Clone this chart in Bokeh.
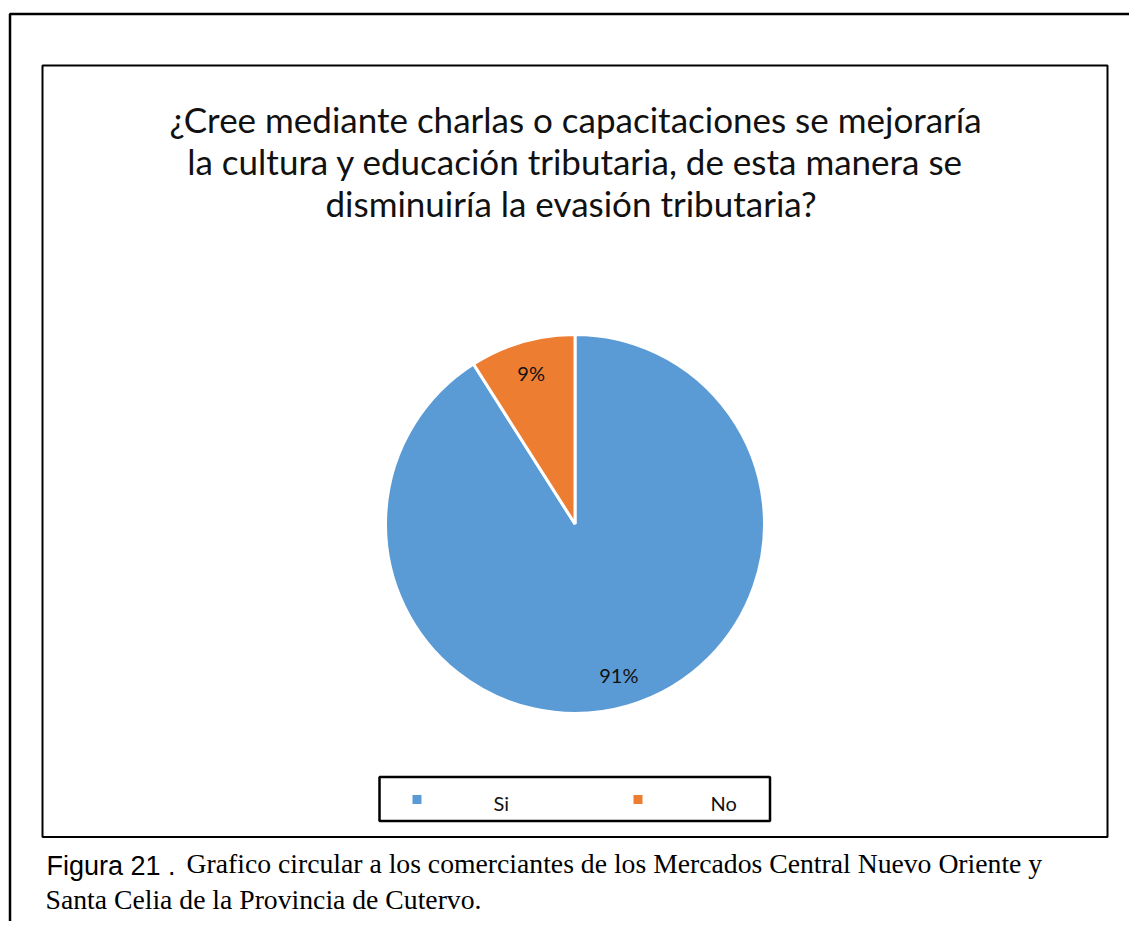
import math
from bokeh.plotting import figure
from bokeh.models import Range1d, ColumnDataSource
from bokeh.core.properties import value
from bokeh.embed import file_html
from bokeh.resources import INLINE

# ---- data ----
categories = ["Si", "No"]
values = [91, 9]
colors = ["#5B9BD5", "#ED7D31"]
title_lines = [
    "¿Cree mediante charlas o capacitaciones se mejoraría",
    "la cultura y educación tributaria, de esta manera se",
    "disminuiría  la evasión tributaria?",
]
caption_label = "Figura 21 ."
caption_line1 = "Grafico circular a los comerciantes de los Mercados Central Nuevo Oriente y"
caption_line2 = "Santa Celia de la Provincia de Cutervo."

W, H = 1129, 921


def Y(py):
    # layout y (top-down pixels) -> data y (bottom-up)
    return H - py


p = figure(width=W, height=H, output_backend="svg", toolbar_location=None,
           x_range=Range1d(0, W), y_range=Range1d(0, H),
           min_border=0)
p.axis.visible = False
p.grid.visible = False
p.outline_line_color = None
p.background_fill_color = "white"
p.border_fill_color = "white"

# outer frame (extends beyond the page)
p.quad(left=[9.5], right=[3000], top=[Y(13.5)], bottom=[Y(3000)],
       fill_color=None, line_color="black", line_width=2.5)
# chart area frame
p.quad(left=[42], right=[1107], top=[Y(65)], bottom=[Y(836.5)],
       fill_color="white", line_color="black", line_width=2)

# title
cx_title = 575
p.text(x=[cx_title] * 3, y=[Y(118), Y(160), Y(202)], text=title_lines,
       text_font=value("Lato"), text_font_size="35px", text_color="#111111",
       text_align="center", text_baseline="middle")

# pie
cx, cy, R = 574.5, Y(523.5), 189.5
total = sum(values)
starts, ends, mids = [], [], []
a = math.pi / 2
for v in values:
    span = v / total * 2 * math.pi
    # clockwise from 12 o'clock
    ends.append(a)
    starts.append(a - span)
    mids.append(a - span / 2)
    a -= span
src = ColumnDataSource(dict(start=starts, end=ends, color=colors, cat=categories))
p.wedge(x=cx, y=cy, radius=R, start_angle="start", end_angle="end",
        fill_color="color", line_color="white", line_width=3, source=src)

# data labels
lab_r = 0.83 * R
lx = [cx + lab_r * math.cos(m) for m in mids]
ly = [cy + lab_r * math.sin(m) for m in mids]
labels = [f"{round(v / total * 100)}%" for v in values]
p.text(x=lx, y=ly, text=labels, text_font=value("Lato"), text_font_size="20px",
       text_color="#111111", text_align="center", text_baseline="middle")

# legend
p.quad(left=[379], right=[769.5], top=[Y(776.5)], bottom=[Y(820.5)],
       fill_color="white", line_color="black", line_width=2.5)
mk_x = [416.5, 637.5]
tx_x = [493, 710]
p.scatter(x=mk_x, y=[Y(799)] * 2, marker="square", size=9,
          fill_color=colors, line_color=None)
p.text(x=tx_x, y=[Y(802.5)] * 2, text=categories, text_font=value("Lato"),
       text_font_size="20px", text_color="#111111", text_align="left",
       text_baseline="middle")

# caption
p.text(x=[46], y=[Y(865)], text=[caption_label],
       text_font=value("Liberation Sans"), text_font_size="27px",
       text_color="black", text_align="left", text_baseline="middle")
p.text(x=[186], y=[Y(862.5)], text=[caption_line1],
       text_font=value("Liberation Serif"), text_font_size="27.7px",
       text_color="black", text_align="left", text_baseline="middle")
p.text(x=[45], y=[Y(899)], text=[caption_line2],
       text_font=value("Liberation Serif"), text_font_size="27.7px",
       text_color="black", text_align="left", text_baseline="middle")

open("out.html", "w").write(file_html(p, INLINE))
